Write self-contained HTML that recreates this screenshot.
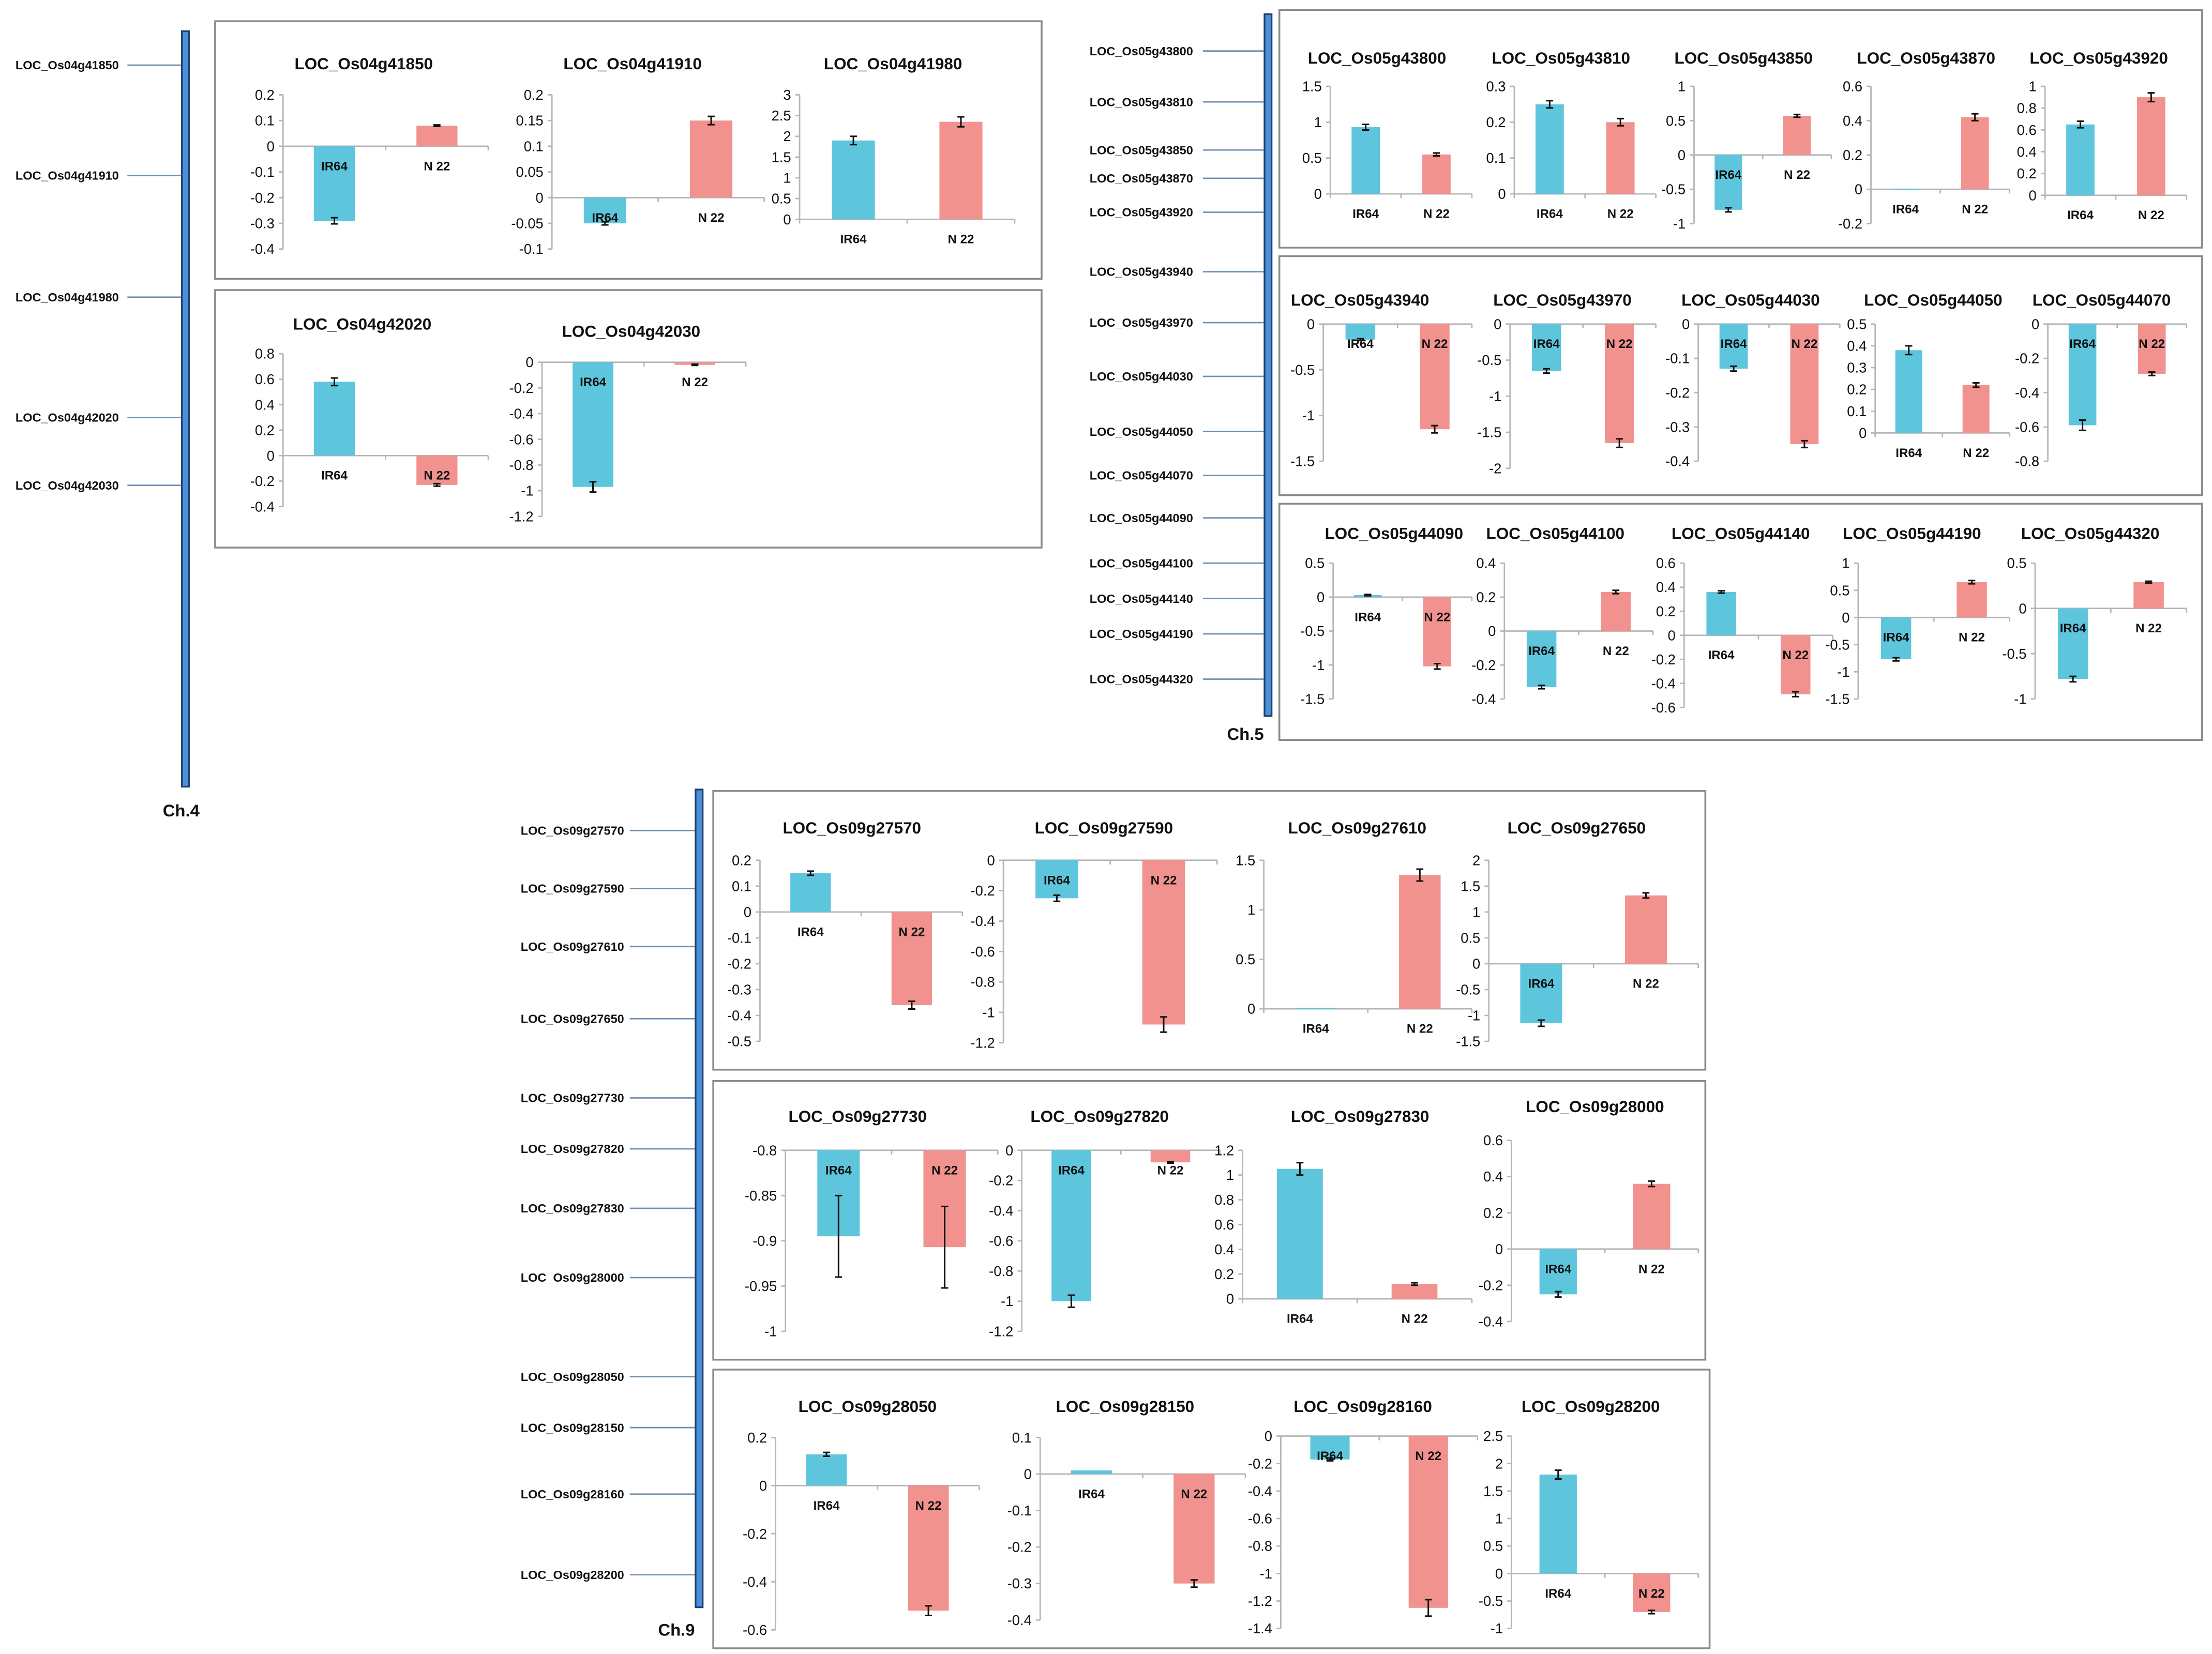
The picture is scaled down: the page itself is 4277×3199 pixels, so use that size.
<!DOCTYPE html>
<html><head><meta charset="utf-8"><style>
html,body{margin:0;padding:0;background:#fff;}
svg{display:block;}
</style></head><body>
<svg id="fig" xmlns="http://www.w3.org/2000/svg" width="4277" height="3199" viewBox="0 0 1563 1169" font-family="'Liberation Sans', sans-serif">
<rect width="1563" height="1169" fill="#fff"/>
<g id="frames"></g>
<g id="chroms"></g>
<g id="charts"></g>
</svg>
<script>
// ---- data ----
const geneTitles = ["LOC_Os04g41850","LOC_Os04g41910","LOC_Os04g41980","LOC_Os04g42020","LOC_Os04g42030",
"LOC_Os05g43800","LOC_Os05g43810","LOC_Os05g43850","LOC_Os05g43870","LOC_Os05g43920",
"LOC_Os05g43940","LOC_Os05g43970","LOC_Os05g44030","LOC_Os05g44050","LOC_Os05g44070",
"LOC_Os05g44090","LOC_Os05g44100","LOC_Os05g44140","LOC_Os05g44190","LOC_Os05g44320",
"LOC_Os09g27570","LOC_Os09g27590","LOC_Os09g27610","LOC_Os09g27650",
"LOC_Os09g27730","LOC_Os09g27820","LOC_Os09g27830","LOC_Os09g28000",
"LOC_Os09g28050","LOC_Os09g28150","LOC_Os09g28160","LOC_Os09g28200"];
const categories = ["IR64","N 22"];
const ir64Values = [-0.29,-0.05,1.9,0.58,-0.97, 0.93,0.25,-0.8,-0.005,0.65, -0.17,-0.65,-0.13,0.38,-0.59, 0.03,-0.33,0.36,-0.77,-0.78, 0.15,-0.25,0.01,-1.15, -0.895,-1.0,1.05,-0.25, 0.13,0.01,-0.17,1.8];
const n22Values  = [0.08,0.15,2.35,-0.23,-0.02, 0.55,0.2,0.57,0.42,0.9, -1.15,-1.65,-0.35,0.22,-0.29, -1.02,0.23,-0.49,0.65,0.29, -0.36,-1.08,1.35,1.32, -0.907,-0.08,0.12,0.36, -0.52,-0.3,-1.25,-0.7];
const ir64Errors = [0.012,0.003,0.1,0.03,0.04, 0.04,0.01,0.03,0,0.03, 0.01,0.03,0.007,0.02,0.03, 0.01,0.01,0.01,0.03,0.03, 0.008,0.02,0,0.06, 0.045,0.04,0.05,0.015, 0.008,0,0.01,0.08];
const n22Errors  = [0.003,0.008,0.12,0.01,0.005, 0.02,0.01,0.02,0.02,0.04, 0.04,0.06,0.01,0.01,0.01, 0.04,0.01,0.02,0.03,0.01, 0.015,0.05,0.06,0.05, 0.045,0.005,0.01,0.015, 0.02,0.01,0.06,0.03];
const yMaxs  = [0.2,0.2,3,0.8,0, 1.5,0.3,1,0.6,1, 0,0,0,0.5,0, 0.5,0.4,0.6,1,0.5, 0.2,0,1.5,2, -0.8,0,1.2,0.6, 0.2,0.1,0,2.5];
const yMins  = [-0.4,-0.1,0,-0.4,-1.2, 0,0,-1,-0.2,0, -1.5,-2,-0.4,0,-0.8, -1.5,-0.4,-0.6,-1.5,-1, -0.5,-1.2,0,-1.5, -1,-1.2,0,-0.4, -0.6,-0.4,-1.4,-1];
const ySteps = [0.1,0.05,0.5,0.2,0.2, 0.5,0.1,0.5,0.2,0.2, 0.5,0.5,0.1,0.1,0.2, 0.5,0.2,0.2,0.5,0.5, 0.1,0.2,0.5,0.5, 0.05,0.2,0.2,0.2, 0.2,0.1,0.2,0.5];
const chr4Genes = ["LOC_Os04g41850","LOC_Os04g41910","LOC_Os04g41980","LOC_Os04g42020","LOC_Os04g42030"];
const chr5Genes = ["LOC_Os05g43800","LOC_Os05g43810","LOC_Os05g43850","LOC_Os05g43870","LOC_Os05g43920","LOC_Os05g43940","LOC_Os05g43970","LOC_Os05g44030","LOC_Os05g44050","LOC_Os05g44070","LOC_Os05g44090","LOC_Os05g44100","LOC_Os05g44140","LOC_Os05g44190","LOC_Os05g44320"];
const chr9Genes = ["LOC_Os09g27570","LOC_Os09g27590","LOC_Os09g27610","LOC_Os09g27650","LOC_Os09g27730","LOC_Os09g27820","LOC_Os09g27830","LOC_Os09g28000","LOC_Os09g28050","LOC_Os09g28150","LOC_Os09g28160","LOC_Os09g28200"];

// ---- layout (pixels, viewBox units) ----
// [axisX0, axisX1, yTopPix(max), yBotPix(min), titleX, titleY]
const layout = [
[200,345,67,176,257,49],[390,540,67,176,447,49],[565,717,67,155,631,49],[200,345,250,358,256,233],[383,527,256,365,446,238],
[940,1040,61,137,973,45],[1070,1170,61,137,1103,45],[1197,1294,61,158,1232,45],[1322,1420,61,158,1361,45],[1445,1545,61,138,1483,45],
[935,1040,229,326,961,216],[1067,1170,229,331,1104,216],[1200,1300,229,326,1237,216],[1325,1420,229,306,1366,216],[1447,1545,229,326,1485,216],
[942,1040,398,494,985,381],[1063,1168,398,494,1099,381],[1190,1295,398,500,1230,381],[1313,1420,398,494,1351,381],[1438,1545,398,494,1477,381],
[537,680,608,736,602,589],[709,860,608,737,780,589],[893,1040,608,713,959,589],[1052,1200,608,736,1114,589],
[555,705,813,941,606,793],[722,862,813,941,777,793],[878,1040,813,918,961,793],[1068,1200,806,934,1127,786],
[548,692,1016,1152,613,998],[735,880,1016,1145,795,998],[905,1044,1015,1151,963,998],[1068,1200,1015,1151,1124,998]];
const boxes = [[152,15,584,182],[152,205,584,182],[904,7,652,168],[904,181,652,169],[904,356,652,167],[504,559,701,197],[504,764,701,197],[504,968,704,197]];

const NS="http://www.w3.org/2000/svg";
function mk(tag,attrs,parent,text){const e=document.createElementNS(NS,tag);for(const k in attrs)e.setAttribute(k,attrs[k]);if(text!==undefined)e.textContent=text;parent.appendChild(e);return e;}
const frames=document.getElementById('frames'),chroms=document.getElementById('chroms'),charts=document.getElementById('charts');

boxes.forEach((b,i)=>{
  const r=mk('rect',{x:b[0],y:b[1],width:b[2],height:b[3],fill:'none',stroke:'#8a8a8a','stroke-width':1.3},frames);
  
  
});

function chromosome(name,x,y0,y1,genes,ys,labelRight,lineX0,chX,chY){
  const g=mk('g',{},chroms);
  
  
  const bar=mk('rect',{x:x-2.5,y:y0,width:5,height:y1-y0,fill:'#4a90d9',stroke:'#1d3f6e','stroke-width':1.2},g);
  
  
  genes.forEach((gn,i)=>{
    const t=mk('text',{x:labelRight,y:ys[i]+3,'text-anchor':'end','font-size':8.6,'font-weight':'bold',fill:'#111'},g,gn);
    
    
    const l=mk('line',{x1:lineX0,x2:x-3,y1:ys[i],y2:ys[i],stroke:'#6f8fb0','stroke-width':1},g);
    
    
  });
  const c=mk('text',{x:chX,y:chY,'text-anchor':'middle','font-size':12,'font-weight':'bold',fill:'#111'},g,'Ch.'+name);
  
  
}
chromosome('4',131,22,556,chr4Genes,[46,124,210,295,343],84,90,128,577);
chromosome('5',896,10,506,chr5Genes,[36,72,106,126,150,192,228,266,305,336,366,398,423,448,480],843,850,880,523);
chromosome('9',494,558,1136,chr9Genes,[587,628,669,720,776,812,854,903,973,1009,1056,1113],441,445,478,1156);

function fmt(v){return String(parseFloat(v.toFixed(3)));}
layout.forEach((L,i)=>{
  const [ax0,ax1,pT,pB,tx,ty]=L;
  const ymax=yMaxs[i],ymin=yMins[i],step=ySteps[i];
  const yS=v=>pT+(ymax-v)/(ymax-ymin)*(pB-pT);
  const base=Math.min(Math.max(0,ymin),ymax);
  const y0=yS(base);
  const g=mk('g',{},charts);
  
  
  const title=mk('text',{x:tx,y:ty,'text-anchor':'middle','font-size':11.5,'font-weight':'bold',fill:'#111'},g,geneTitles[i]);
  
  
  const ya=mk('line',{x1:ax0,x2:ax0,y1:pT,y2:pB,stroke:'#b5b5b5','stroke-width':1},g);
  
  
  const n=Math.round((ymax-ymin)/step);
  for(let k=0;k<=n;k++){
    const v=ymax-k*step,yy=yS(v);
    mk('line',{x1:ax0-3,x2:ax0,y1:yy,y2:yy,stroke:'#b5b5b5','stroke-width':1},g);
    const t=mk('text',{x:ax0-6,y:yy+3.5,'text-anchor':'end','font-size':10,fill:'#111'},g,fmt(v));
    
    
  }
  const xa=mk('line',{x1:ax0,x2:ax1,y1:y0,y2:y0,stroke:'#b5b5b5','stroke-width':1},g);
  
  
  const cw=(ax1-ax0)/2;
  [ax0,ax0+cw,ax1].forEach(xx=>mk('line',{x1:xx,x2:xx,y1:y0,y2:y0+3,stroke:'#b5b5b5','stroke-width':1},g));
  const vals=[ir64Values[i],n22Values[i]],errs=[ir64Errors[i],n22Errors[i]],cols=['#5ec6dc','#f1928f'];
  vals.forEach((v,j)=>{
    const cx=ax0+cw*(j+0.5),bw=cw*0.4;
    const yv=yS(v);
    const b=mk('rect',{x:cx-bw/2,y:Math.min(yv,y0),width:bw,height:Math.max(0.6,Math.abs(yv-y0)),fill:cols[j]},g);
    
    
    if(errs[j]>0){
      const e1=yS(v+errs[j]),e2=yS(v-errs[j]);
      const eb=mk('path',{d:`M${cx},${e1}V${e2}M${cx-2.5},${e1}H${cx+2.5}M${cx-2.5},${e2}H${cx+2.5}`,stroke:'#111','stroke-width':1.1,fill:'none'},g);
      
      
    }
    const lab=mk('text',{x:cx,y:y0+17,'text-anchor':'middle','font-size':8.8,'font-weight':'bold',fill:'#111'},g,categories[j]);
    
    
  });
});
</script>
</body></html>
